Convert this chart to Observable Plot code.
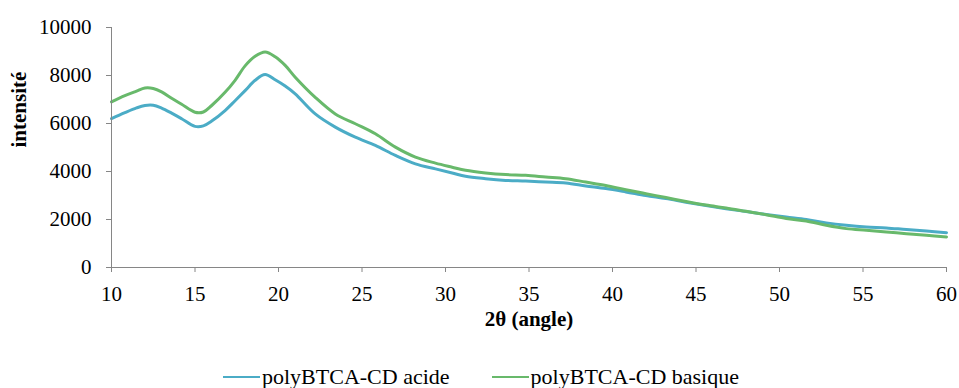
<!DOCTYPE html>
<html>
<head>
<meta charset="utf-8">
<script src="https://cdn.jsdelivr.net/npm/d3@7"></script>
<script src="https://cdn.jsdelivr.net/npm/@observablehq/plot@0.6"></script>
<style>
  body { margin: 0; background: #fff; }
  #wrap { position: relative; width: 959px; height: 388px; font-family: "Liberation Serif", Tinos, "Times New Roman", Times, "Nimbus Roman", "FreeSerif", "Noto Serif", "DejaVu Serif", serif; }
  #legend { position: absolute; left: 223px; top: 366px; display: flex; align-items: center; font-size: 22px; line-height: 22px; color: #000; white-space: nowrap; }
  .item { display: flex; align-items: center; }
  .sw { width: 37px; height: 2px; margin-right: 2px; }
</style>
</head>
<body>
<div id="wrap"><div id="chart"></div><div id="legend"></div></div>
<script>
const angles = [10, 10.8, 11.5, 12, 12.5, 13, 13.6, 14.2, 15, 15.5, 16, 16.8, 17.4, 18, 18.6, 19.2, 19.8, 20.4, 21, 22.2, 23.4, 24.6, 25.8, 27, 28.2, 29.4, 30.4, 31.2, 32.4, 33.6, 34.8, 36, 37.2, 38.4, 39.6, 40.8, 42, 43.2, 44.4, 45.6, 46.8, 48, 49.2, 50.4, 51.6, 52.8, 54, 55.2, 56.4, 57.6, 58.8, 60];
const acide = [6200, 6450, 6650, 6750, 6760, 6640, 6430, 6200, 5880, 5900, 6100, 6540, 6950, 7370, 7800, 8040, 7820, 7560, 7235, 6400, 5850, 5430, 5085, 4670, 4320, 4110, 3940, 3800, 3700, 3630, 3600, 3560, 3520, 3400, 3290, 3150, 3000, 2870, 2720, 2580, 2450, 2330, 2210, 2100, 2000, 1860, 1760, 1690, 1650, 1580, 1520, 1450];
const basique = [6900, 7160, 7350, 7480, 7460, 7320, 7050, 6800, 6470, 6480, 6750, 7300, 7800, 8400, 8800, 8980, 8780, 8420, 7930, 7090, 6400, 5990, 5570, 5015, 4600, 4350, 4180, 4050, 3940, 3870, 3840, 3770, 3700, 3560, 3420, 3240, 3075, 2915, 2750, 2600, 2480, 2340, 2200, 2040, 1940, 1760, 1620, 1550, 1480, 1410, 1340, 1275];
const seriesNames = ["polyBTCA-CD acide", "polyBTCA-CD basique"];
const seriesColors = ["#4bacc6", "#68b96b"];
const xTicks = [10, 15, 20, 25, 30, 35, 40, 45, 50, 55, 60];
const yTicks = [0, 2000, 4000, 6000, 8000, 10000];
const xTitle = "2θ (angle)";
const yTitle = "intensité";

const rows = [];
[acide, basique].forEach((vals, s) => {
  vals.forEach((v, i) => rows.push({angle: angles[i], value: v, series: seriesNames[s]}));
});

const serifFont = "'Liberation Serif', Tinos, 'Times New Roman', Times, 'Nimbus Roman', FreeSerif, 'Noto Serif', 'DejaVu Serif', serif";
const axisGray = "#868686";
const plot = Plot.plot({
  width: 959,
  height: 345,
  marginLeft: 111,
  marginRight: 13,
  marginTop: 27,
  marginBottom: 78,
  style: {fontFamily: serifFont, fontSize: "21px", color: "#000", background: "#fff"},
  x: {domain: [10, 60]},
  y: {domain: [0, 10000]},
  color: {domain: seriesNames, range: seriesColors},
  marks: [
    Plot.line(rows, {x: "angle", y: "value", z: "series", stroke: "series", strokeWidth: 3, curve: "catmull-rom"}),
    Plot.ruleY([0], {stroke: axisGray, strokeWidth: 1}),
    Plot.ruleX([10], {stroke: axisGray, strokeWidth: 1}),
    Plot.axisX({ticks: xTicks, tickFormat: d => String(d), tickSize: 5, tickPadding: 14, stroke: axisGray, fill: "#000", label: null, fontSize: 21, fontFamily: serifFont}),
    Plot.axisY({ticks: yTicks, tickFormat: d => String(d), tickSize: 5, tickPadding: 15, stroke: axisGray, fill: "#000", label: null, fontSize: 21, fontFamily: serifFont}),
    Plot.text([xTitle], {text: d => d, frameAnchor: "bottom", dy: 58, fontWeight: "bold", fontSize: 21, fill: "#000", fontFamily: serifFont}),
    Plot.text([yTitle], {text: d => d, frameAnchor: "left", dx: -92, rotate: -90, fontWeight: "bold", fontSize: 21, fill: "#000", fontFamily: serifFont})
  ]
});
document.getElementById("chart").appendChild(plot);

const legend = document.getElementById("legend");
seriesNames.forEach((name, i) => {
  const item = document.createElement("div");
  item.className = "item";
  if (i > 0) item.style.marginLeft = "42px";
  const sw = document.createElement("span");
  sw.className = "sw";
  sw.style.background = seriesColors[i];
  const t = document.createElement("span");
  t.textContent = name;
  item.appendChild(sw);
  item.appendChild(t);
  legend.appendChild(item);
});
</script>
</body>
</html>
